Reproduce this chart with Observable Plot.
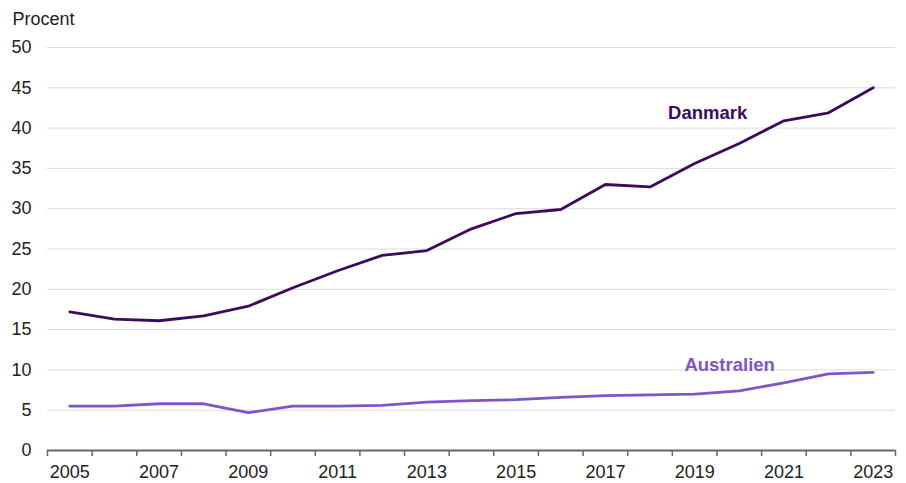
<!DOCTYPE html>
<html><head><meta charset="utf-8">
<script src="https://cdn.jsdelivr.net/npm/d3@7"></script>
<script src="https://cdn.jsdelivr.net/npm/@observablehq/plot@0.6"></script>
<style>
body{margin:0;background:#fff;}
svg{font-family:"Liberation Sans",Arial,sans-serif;}
</style>
</head><body><div id="chart"></div>
<script>
const years = [2005,2006,2007,2008,2009,2010,2011,2012,2013,2014,2015,2016,2017,2018,2019,2020,2021,2022,2023];
const danmark = [17.2,16.3,16.1,16.7,17.9,20.2,22.3,24.2,24.8,27.5,29.4,29.9,33.0,32.7,35.6,38.1,40.9,41.9,45.0];
const australien = [5.5,5.5,5.8,5.8,4.7,5.5,5.5,5.6,6.0,6.2,6.3,6.6,6.8,6.9,7.0,7.4,8.4,9.5,9.7];
const yTicks = [0,5,10,15,20,25,30,35,40,45,50];
const xLabelYears = [2005,2007,2009,2011,2013,2015,2017,2019,2021,2023];
const seriesNames = ["Danmark","Australien"];
const colors = ["#3d0b5e","#7f55cb"];

const rows = [];
years.forEach((y,i)=>{
  rows.push({year:y, value:danmark[i], series:"Danmark"});
  rows.push({year:y, value:australien[i], series:"Australien"});
});
const boundaries = years.map(y=>y-0.5).concat([years[years.length-1]+0.5]);
const labelAnchor = [{year:2019, value:danmark[14], series:"Danmark"},{year:2019, value:australien[14], series:"Australien"}];

const chart = Plot.plot({
  width:906, height:483,
  marginLeft:47, marginRight:11, marginTop:47, marginBottom:33,
  style:{fontSize:"18px", fontFamily:"'Liberation Sans',Arial,sans-serif", color:"#222"},
  x:{domain:[years[0]-0.5, years[years.length-1]+0.5]},
  y:{domain:[0,50]},
  color:{domain:seriesNames, range:colors},
  marks:[
    Plot.gridY(yTicks.filter(d=>d>0), {stroke:"#dcdcdc", strokeOpacity:1, strokeWidth:1}),
    Plot.axisY(yTicks, {tickSize:0, tickPadding:16, label:null, fontSize:18}),
    Plot.axisX(boundaries, {tickSize:6, tickFormat:()=>"", stroke:"#666", strokeWidth:1.5, label:null}),
    Plot.axisX(xLabelYears, {tickSize:0, tickPadding:15, tickFormat:d=>String(d), label:null, fontSize:18}),
    Plot.ruleY([0], {stroke:"#666", strokeWidth:2}),
    Plot.line(rows, {x:"year", y:"value", z:"series", stroke:"series", strokeWidth:2.8}),
    Plot.text(labelAnchor.slice(0,1), {x:"year", y:"value", text:"series", fill:colors[0], fontWeight:"bold", fontSize:18.5, dx:13, dy:-50}),
    Plot.text(labelAnchor.slice(1), {x:"year", y:"value", text:"series", fill:colors[1], fontWeight:"bold", fontSize:18.5, dx:35, dy:-29}),
    Plot.text(["Procent"], {frameAnchor:"top-left", text:d=>d, textAnchor:"start", dx:-35, dy:-35, fontSize:18, fill:"#222"})
  ]
});
document.getElementById("chart").append(chart);
</script>
</body></html>
